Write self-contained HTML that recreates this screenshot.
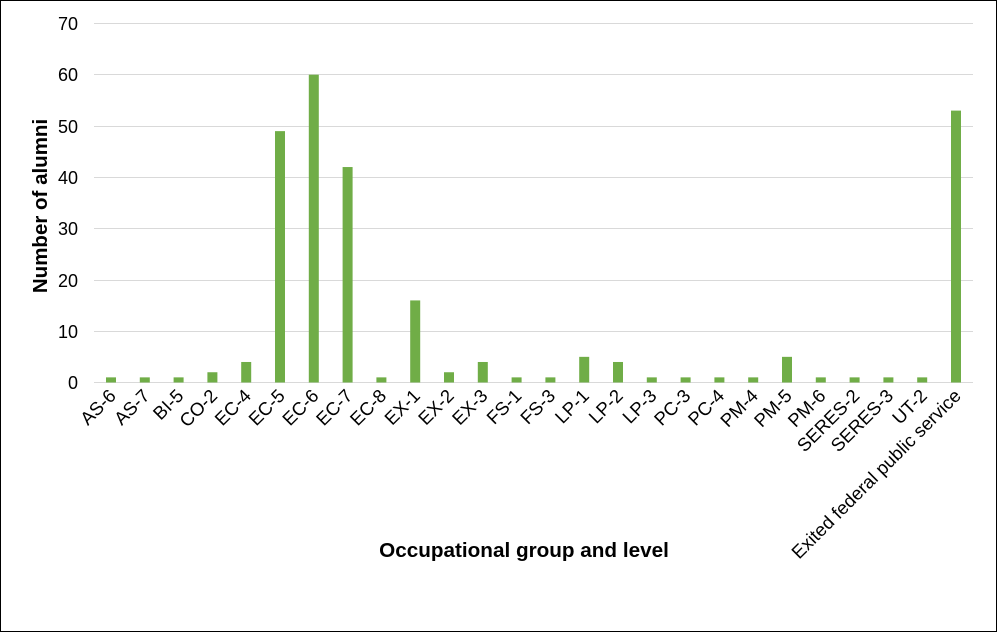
<!DOCTYPE html>
<html><head><style>body{margin:0;background:#fff}svg{display:block}</style></head><body>
<svg width="997" height="632" xmlns="http://www.w3.org/2000/svg" font-family="Liberation Sans, Arial, sans-serif">
<rect x="0.5" y="0.5" width="996" height="631" fill="#fff" stroke="#000" stroke-width="1"/>
<g stroke="#d9d9d9" stroke-width="1">
<line x1="94" x2="973" y1="23.5" y2="23.5"/>
<line x1="94" x2="973" y1="74.5" y2="74.5"/>
<line x1="94" x2="973" y1="126.5" y2="126.5"/>
<line x1="94" x2="973" y1="177.5" y2="177.5"/>
<line x1="94" x2="973" y1="228.5" y2="228.5"/>
<line x1="94" x2="973" y1="280.5" y2="280.5"/>
<line x1="94" x2="973" y1="331.5" y2="331.5"/>
<line x1="94" x2="973" y1="382.5" y2="382.5"/>
</g>
<g font-size="18" fill="#000" text-anchor="end">
<text x="78" y="30">70</text><text x="78" y="81">60</text><text x="78" y="133">50</text><text x="78" y="184">40</text>
<text x="78" y="235">30</text><text x="78" y="287">20</text><text x="78" y="338">10</text><text x="78" y="389">0</text>
</g>
<text transform="translate(47,206) rotate(-90)" text-anchor="middle" font-size="20.5" font-weight="bold">Number of alumni</text>
<text x="524" y="557" text-anchor="middle" font-size="20.7" font-weight="bold">Occupational group and level</text>
<g id="bars" fill="#70ad47"></g>
<g id="labels" font-size="18.5" text-anchor="end"></g>
<script>
var v=[1,1,1,2,4,49,60,42,1,16,2,4,1,1,5,4,1,1,1,1,5,1,1,1,1,53];
var n=["AS-6","AS-7","BI-5","CO-2","EC-4","EC-5","EC-6","EC-7","EC-8","EX-1","EX-2","EX-3","FS-1","FS-3","LP-1","LP-2","LP-3","PC-3","PC-4","PM-4","PM-5","PM-6","SERES-2","SERES-3","UT-2","Exited federal public service"];
var ns="http://www.w3.org/2000/svg",b=document.getElementById("bars"),l=document.getElementById("labels");
for(var i=0;i<26;i++){var c=111+i*33.8,h=v[i]*5.13;
var r=document.createElementNS(ns,"rect");r.setAttribute("x",c-5);r.setAttribute("width",10);r.setAttribute("y",382.5-h);r.setAttribute("height",h);b.appendChild(r);
var t=document.createElementNS(ns,"text");t.setAttribute("transform","translate("+(c+6)+",397) rotate(-45)");t.textContent=n[i];l.appendChild(t);}
</script>
</svg>
</body></html>
